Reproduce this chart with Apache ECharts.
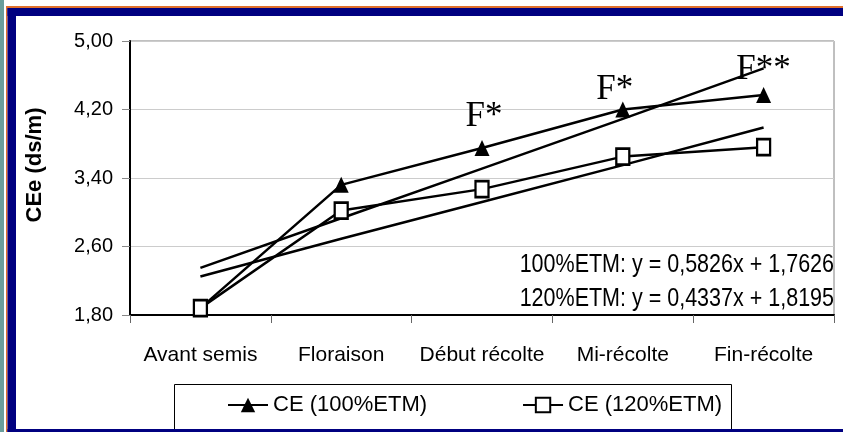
<!DOCTYPE html>
<html>
<head>
<meta charset="utf-8">
<script src="https://cdn.jsdelivr.net/npm/echarts/dist/echarts.min.js"></script>
<style>
html,body{margin:0;padding:0;background:#fff;}
#chart{width:843px;height:432px;}
</style>
</head>
<body>
<div id="chart"></div>
<script>
// ---- data ----
const categories = ['Avant semis', 'Floraison', 'Début récolte', 'Mi-récolte', 'Fin-récolte'];
const ce100 = [1.88, 3.32, 3.75, 4.20, 4.37];
const ce120 = [1.88, 3.02, 3.27, 3.65, 3.76];
const trend100 = [2.35, 2.93, 3.51, 4.09, 4.68];
const trend120 = [2.25, 2.69, 3.12, 3.55, 3.99];
const annotations = ['', '', 'F*', 'F*', 'F**'];
const seriesNames = ['CE (100%ETM)', 'CE (120%ETM)'];
const equations = ['100%ETM: y = 0,5826x + 1,7626', '120%ETM: y = 0,4337x + 1,8195'];
const yMin = 1.8, yMax = 5.0, yStep = 0.8;
const yTitle = 'CEe (ds/m)';

const SANS = "'Liberation Sans', Arial, sans-serif";
const annOffsets = [[0, 0], [0, 0], [2, -31], [-8, -20], [0, -25]];

const chart = echarts.init(document.getElementById('chart'), null, {renderer: 'canvas'});

const option = {
  backgroundColor: '#ffffff',
  animation: false,
  grid: {left: 130, right: 9, top: 41, bottom: 117, show: true, borderColor: '#808080', borderWidth: 1},
  xAxis: {
    type: 'category',
    data: categories,
    boundaryGap: true,
    axisLine: {lineStyle: {color: '#000', width: 2}},
    axisTick: {show: true, length: 8, lineStyle: {color: '#666', width: 1}},
    axisLabel: {fontFamily: SANS, fontSize: 21, color: '#000', margin: 30, interval: 0}
  },
  yAxis: {
    type: 'value',
    min: yMin, max: yMax, interval: yStep,
    axisLine: {show: true, lineStyle: {color: '#000', width: 2}},
    axisTick: {show: true, length: 8, lineStyle: {color: '#888', width: 1}},
    splitLine: {lineStyle: {color: '#cccccc', width: 1}},
    axisLabel: {
      fontFamily: SANS, fontSize: 20, color: '#000', margin: 17,
      formatter: v => v.toFixed(2).replace('.', ',')
    }
  },
  legend: {
    data: seriesNames,
    left: 222, top: 389,
    itemGap: 95,
    itemWidth: 40, itemHeight: 18,
    textStyle: {fontFamily: SANS, fontSize: 22, color: '#000'}
  },
  graphic: [
    // frame
    {type: 'rect', shape: {x: 0, y: 0, width: 4, height: 432}, style: {fill: '#6a9e9c'}, z: 100},
    {type: 'rect', shape: {x: 6, y: 6, width: 837, height: 2}, style: {fill: '#e0702c'}, z: 100},
    {type: 'rect', shape: {x: 6, y: 6, width: 1.5, height: 426}, style: {fill: '#e0702c'}, z: 100},
    {type: 'rect', shape: {x: 7.5, y: 8, width: 835.5, height: 8}, style: {fill: '#000080'}, z: 100},
    {type: 'rect', shape: {x: 7.5, y: 8, width: 8.5, height: 424}, style: {fill: '#000080'}, z: 100},
    {type: 'rect', shape: {x: 7.5, y: 429, width: 835.5, height: 3}, style: {fill: '#000080'}, z: 100},
    // legend box
    {type: 'rect', shape: {x: 174.5, y: 384.5, width: 557, height: 48}, style: {fill: '#fff', stroke: '#000', lineWidth: 1}, z: -1},
    // y title
    {type: 'text', x: 35, y: 165, rotation: Math.PI / 2,
      style: {text: yTitle, fontFamily: SANS, fontWeight: 'bold', fontSize: 22, fill: '#000', align: 'center', verticalAlign: 'middle'}},
    // equations
    {type: 'text', x: 834, y: 265, scaleX: 0.86, style: {text: equations[0], fontFamily: SANS, fontSize: 25, fill: '#000', align: 'right', verticalAlign: 'middle'}, z: 50},
    {type: 'text', x: 834, y: 299, scaleX: 0.86, style: {text: equations[1], fontFamily: SANS, fontSize: 25, fill: '#000', align: 'right', verticalAlign: 'middle'}, z: 50}
  ],
  series: [
    {
      name: 'trend100', type: 'line', data: trend100, symbol: 'none', silent: true,
      lineStyle: {color: '#000', width: 2.5}, z: 2
    },
    {
      name: 'trend120', type: 'line', data: trend120, symbol: 'none', silent: true,
      lineStyle: {color: '#000', width: 2.5}, z: 2
    },
    {
      name: seriesNames[0], type: 'line',
      data: ce100.map((v, i) => ({
        value: v,
        label: annotations[i] ? {show: true, formatter: annotations[i], position: 'inside', offset: annOffsets[i],
          fontFamily: "'Liberation Serif', 'Times New Roman', serif", fontSize: 35, color: '#000'} : {show: false}
      })),
      symbol: 'triangle', symbolSize: [15, 16],
      itemStyle: {color: '#000'},
      lineStyle: {color: '#000', width: 2.5}, z: 3
    },
    {
      name: seriesNames[1], type: 'line', data: ce120,
      symbol: 'rect', symbolSize: [13, 16],
      itemStyle: {color: '#fff', borderColor: '#000', borderWidth: 2.5},
      lineStyle: {color: '#000', width: 2.5}, z: 4
    }
  ]
};
chart.setOption(option);
</script>
</body>
</html>
